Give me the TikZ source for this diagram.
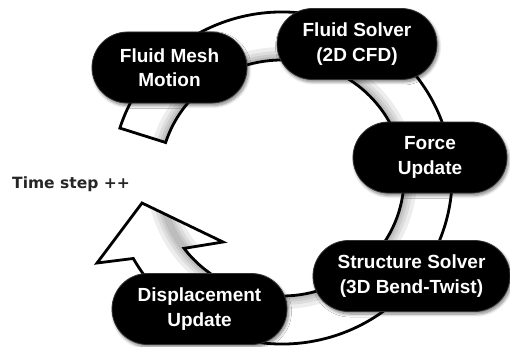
\documentclass[tikz,border=0pt]{standalone}
\usepackage{fontspec}
\setmainfont{Liberation Sans}
\newfontfamily\labelfont{DejaVu Sans}
\usetikzlibrary{shapes.misc,shadows.blur,calc}
\tikzset{
  stage/.style={rounded rectangle, fill=black, draw=black!80, line width=0.8pt,
    text=white, font=\bfseries\fontsize{19}{24.5}\selectfont, align=center,
    minimum height=71pt, inner sep=0pt,
    blur shadow={shadow xshift=1.5pt, shadow yshift=-2.5pt, shadow blur steps=6,
      shadow blur radius=3pt, shadow opacity=50}},
  band/.style={draw=black, line width=2.8pt, line join=miter},
  bandshade/.style={line width=#1, draw=black, draw opacity=0.07},
  steplabel/.style={font=\labelfont\bfseries\fontsize{15.5}{18}\selectfont,
    text=black!85, inner sep=0pt},
}
% outline of the loop: a wide band running clockwise, ending in an arrow head
\newcommand{\looppath}{($(c)+(162.5:170pt and 166pt)$)
  arc[start angle=162.5, end angle=-151, x radius=170pt, y radius=166pt]
  -- (tipL) -- (tip) -- (tipR)
  -- ($(c)+(-143.4:122pt and 118pt)$)
  arc[start angle=-143.4, end angle=162.5, x radius=122pt, y radius=118pt]
  -- cycle}
\begin{document}
\begin{tikzpicture}[x=1pt,y=1pt]
\useasboundingbox (0,0) rectangle (510,346);

% centre of the cycle ring and the corners of its arrow head
\coordinate (c) at (282,168);
\coordinate (tipL) at (97,83);
\coordinate (tip) at (142,143);
\coordinate (tipR) at (223,104);

\fill[white] \looppath;
% soft grey along the inner rim of the band
\begin{scope}
  \clip \looppath;
  \foreach \w in {26pt,18pt,12pt,7pt}
    \draw[bandshade=\w] (c) ellipse[x radius=122pt, y radius=118pt];
\end{scope}
\draw[band] \looppath;

% solver stages
\node[stage, minimum width=155pt] (mesh)   at (169.5,278.5) {Fluid Mesh\\Motion};
\node[stage, minimum width=160pt] (solver) at (357,302)     {Fluid Solver\\(2D CFD)};
\node[stage, minimum width=154pt] (force)  at (430,188.5)   {Force\\Update};
\node[stage, minimum width=197pt] (struct) at (411.5,70)    {Structure Solver\\(3D Bend-Twist)};
\node[stage, minimum width=175pt] (disp)   at (199.5,37)    {Displacement\\Update};

\node[steplabel, anchor=base west] (ts) at (12,158) {Time step ++};
\end{tikzpicture}
\end{document}
